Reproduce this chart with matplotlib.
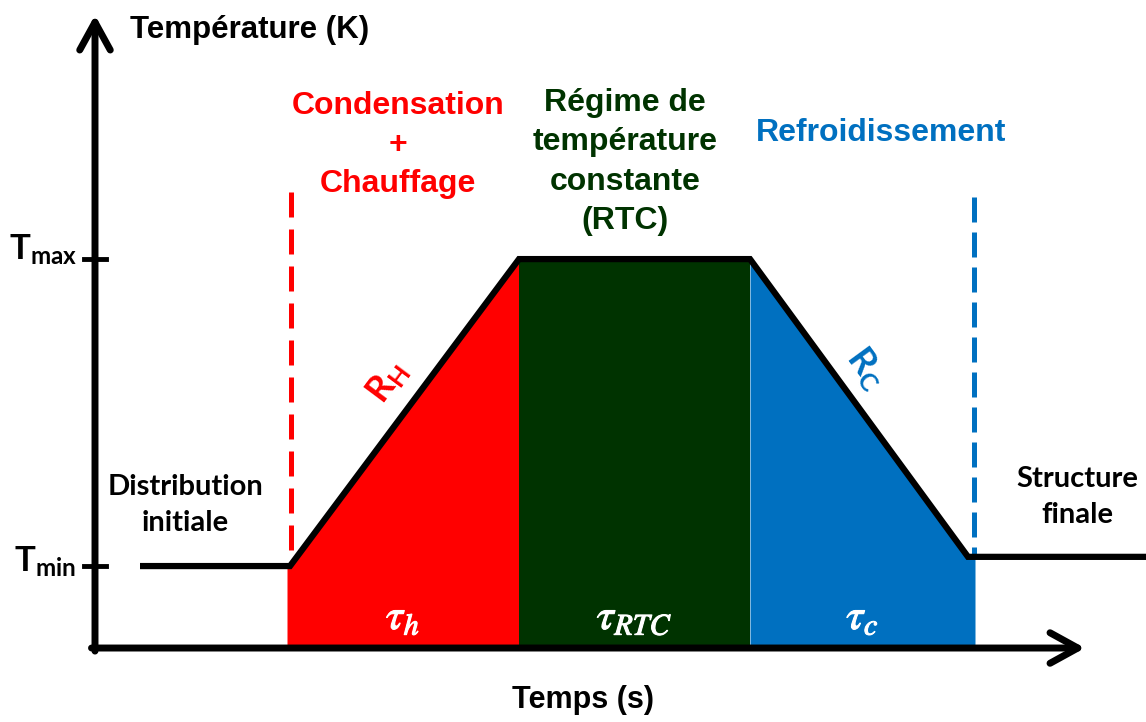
import numpy as np
import matplotlib
matplotlib.use('Agg')
import matplotlib.pyplot as plt
import matplotlib.patheffects as pe

# ── Profile data (time in arbitrary units, temperature: Tmin=0, Tmax=1) ─────
time = [0.45, 1.95, 4.24, 6.55, 8.73, 10.51]
temp = [0.00, 0.00, 1.00, 1.00, 0.03, 0.03]

# phase boundaries (heating, RTC, cooling)
phase_edges = [1.92, 4.24, 6.55, 8.80]
phase_colors = ['#FF0000', '#003300', '#0070C0']
phase_taus = [r'$\tau_h$', r'$\tau_{RTC}$', r'$\tau_c$']

tick_values = [1.0, 0.0]
tick_names = [r'$\mathrm{T}_{\mathrm{max}}$', r'$\mathrm{T}_{\mathrm{min}}$']

T_BASE = -0.267          # level of the time axis
RED, GREEN, BLUE = '#FF0000', '#003300', '#0070C0'

plt.rcParams['mathtext.fontset'] = 'custom'
plt.rcParams['mathtext.rm'] = 'Lato:bold'
plt.rcParams['mathtext.it'] = 'Lato:bold:italic'
plt.rcParams['mathtext.bf'] = 'Lato:bold'

ARIAL = dict(family='Liberation Sans', weight='bold')
CALIB = dict(family='Lato', weight='bold')

fig = plt.figure(figsize=(11.46, 7.22), dpi=100)
ax = fig.add_axes([0, 0, 1, 1])
ax.set_xlim(-0.95, 10.51)
ax.set_ylim(-0.508, 1.844)
ax.axis('off')

# ── coloured phases ──────────────────────────────────────────────────────────
for i, col in enumerate(phase_colors):
    a, b = phase_edges[i], phase_edges[i + 1]
    xs = sorted({a, b, *[t for t in time if a < t < b]})
    ys = np.interp(xs, time, temp)
    ax.fill_between(xs, T_BASE, ys, color=col, lw=0, zorder=1)
    ax.text((a + b) / 2, -0.166, phase_taus[i], color='white', fontsize=31,
            math_fontfamily='stix', ha='center', va='center', zorder=5,
            path_effects=[pe.withStroke(linewidth=0.8, foreground='white')])

# ── phase separators ─────────────────────────────────────────────────────────
ax.plot([1.96, 1.96], [1.218, 0.0], color=RED, lw=3.6,
        ls=(0, (5, 2.4)), zorder=2)
ax.plot([8.79, 8.79], [1.202, 0.03], color=BLUE, lw=3.6,
        ls=(0, (5, 2.0)), zorder=2)

# ── temperature profile ─────────────────────────────────────────────────────
ax.plot(time, temp, color='black', lw=4.5, solid_joinstyle='miter',
        solid_capstyle='butt', zorder=4)

# ── axes with arrows ─────────────────────────────────────────────────────────
arrow = dict(arrowstyle='->,head_length=1.0,head_width=0.55', lw=5,
             color='black', shrinkA=0, shrinkB=0, mutation_scale=20)
ax.annotate('', xy=(0, 1.795), xytext=(0, T_BASE - 0.01), arrowprops=arrow,
            zorder=6)
ax.annotate('', xy=(9.9, T_BASE), xytext=(-0.035, T_BASE), arrowprops=arrow,
            zorder=6)

for v, name in zip(tick_values, tick_names):
    ax.plot([-0.11, 0.11], [v, v], color='black', lw=3.5, zorder=6)
ax.text(-0.52, 1.030, tick_names[0], fontsize=25, ha='center', va='center')
ax.text(-0.50, 0.015, tick_names[1], fontsize=25, ha='center', va='center')

# ── labels ───────────────────────────────────────────────────────────────────
ax.text(0.35, 1.746, 'Température (K)', fontsize=22.5, ha='left',
        va='center', **ARIAL)
ax.text(4.88, -0.436, 'Temps (s)', fontsize=22, ha='center', va='center',
        **ARIAL)
ax.text(3.03, 1.372, 'Condensation\n+\nChauffage', color=RED, fontsize=23,
        ha='center', va='center', linespacing=1.4, **ARIAL)
ax.text(5.30, 1.316, 'Régime de\ntempérature\nconstante\n(RTC)', color=GREEN,
        fontsize=23, ha='center', va='center', linespacing=1.4, **ARIAL)
ax.text(7.86, 1.410, 'Refroidissement', color=BLUE, fontsize=23,
        ha='center', va='center', **ARIAL)
ax.text(0.90, 0.199, 'Distribution\ninitiale', fontsize=21, ha='center',
        va='center', linespacing=1.5, **CALIB)
ax.text(9.82, 0.225, 'Structure\nfinale', fontsize=21, ha='center',
        va='center', linespacing=1.5, **CALIB)

# slope labels, rotated along the ramps
rot_h = np.degrees(np.arctan2(temp[2] - temp[1], time[2] - time[1]))
rot_c = np.degrees(np.arctan2(temp[4] - temp[3], time[4] - time[3]))
ax.text(2.93, 0.599, r'$\mathrm{R}_{\mathrm{H}}$', color=RED, fontsize=26,
        rotation=rot_h, transform_rotates_text=True, rotation_mode='anchor',
        ha='center', va='center')
ax.text(7.71, 0.645, r'$\mathrm{R}_{\mathrm{C}}$', color=BLUE, fontsize=26,
        rotation=rot_c, transform_rotates_text=True, rotation_mode='anchor',
        ha='center', va='center')

fig.savefig('out.png', dpi=100)
